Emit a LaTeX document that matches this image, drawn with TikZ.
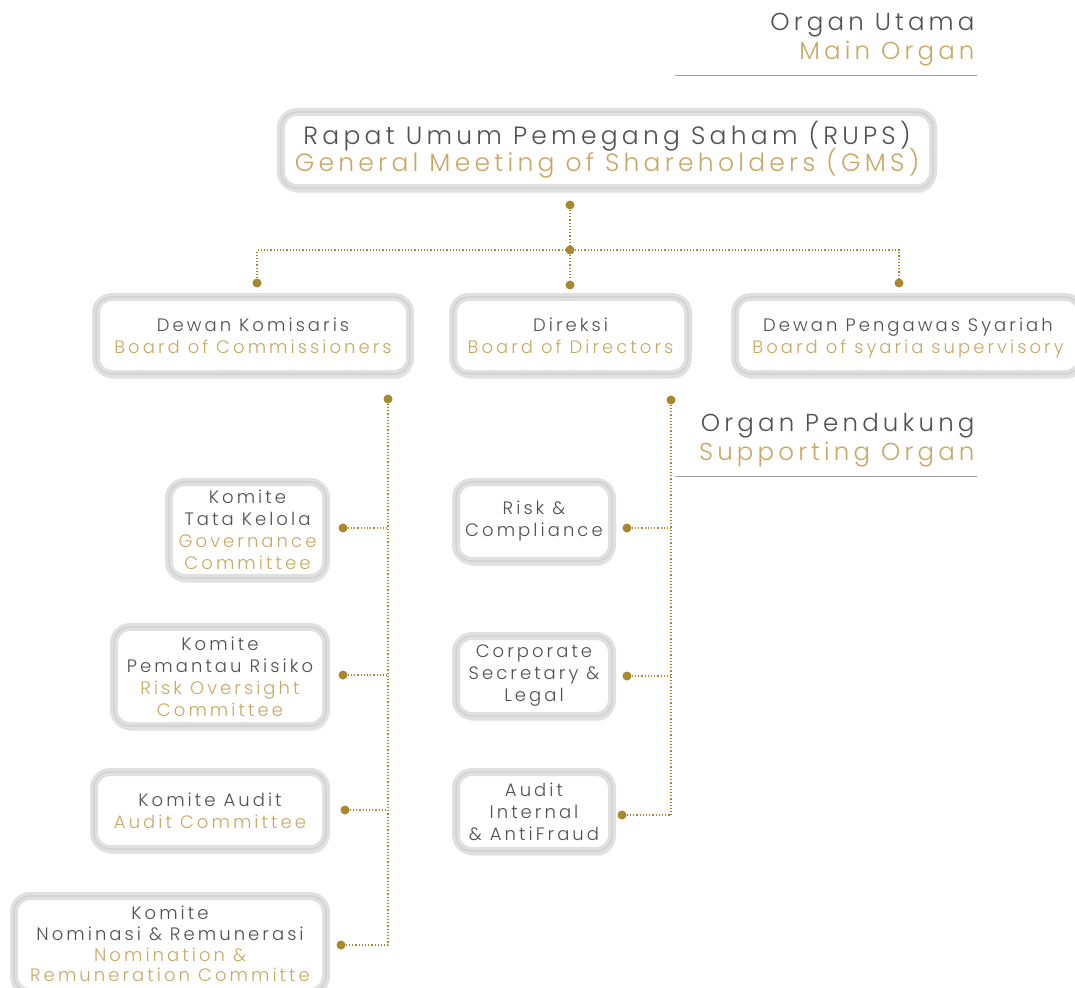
\documentclass[tikz,border=0pt]{standalone}
\usepackage{fontspec}
\IfFontExistsTF{Poppins Light}
  {\setmainfont{Poppins Light}[LetterSpace=17]}
  {\setmainfont{Poppins}[LetterSpace=17]}
\usetikzlibrary{shadows}
\definecolor{dk}{HTML}{505050}
\definecolor{gd}{HTML}{C9A865}
\definecolor{dotc}{HTML}{A8872E}
\definecolor{frame}{HTML}{E0E0E0}
\definecolor{frin}{HTML}{CFCFCF}
\definecolor{rule}{HTML}{A0A0A0}
\newcommand{\gl}[1]{\textcolor{gd}{#1}}
\newcommand{\tightls}{\setlength{\lineskiplimit}{-50pt}\setlength{\lineskip}{0pt}}
\begin{document}
\begin{tikzpicture}[x=1pt,y=-1pt,
 orgbox/.style={draw=frame, line width=8pt, fill=white, rounded corners=16pt, text=dk, align=center, inner sep=0pt,
   drop shadow={opacity=0.15,shadow xshift=2pt,shadow yshift=-5pt},
   postaction={draw=frin, line width=1.2pt, rounded corners=12pt}},
 big/.style={font=\fontsize{25}{27}\selectfont\tightls},
 mid/.style={font=\fontsize{18}{22}\selectfont\tightls},
 sml/.style={font=\fontsize{18}{20.7}\selectfont\tightls},
 conn/.style={dotc, dotted, line width=1.2pt},
 dot/.style={circle, fill=dotc, inner sep=0pt, minimum size=9pt},
 head/.style={anchor=east, text=dk, align=right, font=\fontsize{24.5}{29}\selectfont\tightls}
]
\useasboundingbox (0,0) rectangle (1075,987);

% headers
\node[head] (h1) at (978,40) {Organ Utama\\\gl{Main Organ}};
\coordinate (r1a) at (675,76); \coordinate (r1b) at (977,76);
\draw[rule, line width=1pt] (r1a) -- (r1b);
\node[head] (h2) at (978,440) {Organ Pendukung\\\gl{Supporting Organ}};
\coordinate (r2a) at (675,476); \coordinate (r2b) at (977,476);
\draw[rule, line width=1pt] (r2a) -- (r2b);

% main organ boxes
\node[orgbox, big, minimum width=652pt, minimum height=76pt] (rups) at (607,150)
  {Rapat Umum Pemegang Saham (RUPS)\\\gl{General Meeting of Shareholders (GMS)}};
\node[orgbox, mid, minimum width=314pt, minimum height=77pt] (dekom) at (253,335.5)
  {Dewan Komisaris\\\gl{Board of Commissioners}};
\node[orgbox, mid, minimum width=235pt, minimum height=77pt] (dir) at (570.5,335.5)
  {Direksi\\\gl{Board of Directors}};
\node[orgbox, mid, minimum width=346pt, minimum height=77pt, text depth=0pt] (dps) at (908,335.5)
  {Dewan Pengawas Syariah\\\gl{Board of syaria supervisory}};

% committees (left)
\node[orgbox, mid, minimum width=157pt, minimum height=96pt] (ktk) at (247.5,530)
  {Komite\\Tata Kelola\\\gl{Governance}\\\gl{Committee}};
\node[orgbox, mid, minimum width=212pt, minimum height=99pt] (kpr) at (220,676.5)
  {Komite\\Pemantau Risiko\\\gl{Risk Oversight}\\\gl{Committee}};
\node[orgbox, mid, minimum width=232pt, minimum height=77pt] (ka) at (210,810.5)
  {Komite Audit\\\gl{Audit Committee}};
\node[orgbox, sml, minimum width=312pt, minimum height=96pt] (knr) at (170,944)
  {Komite\\Nominasi \& Remunerasi\\\gl{Nomination \&}\\\gl{Remuneration Committe}};

% supporting units (right)
\node[orgbox, mid, minimum width=156pt, minimum height=79pt] (rc) at (534,521.5)
  {Risk \&\\Compliance};
\node[orgbox, mid, minimum width=156pt, minimum height=80pt] (cs) at (534,676)
  {Corporate\\Secretary \&\\Legal};
\node[orgbox, mid, minimum width=156pt, minimum height=79pt] (ai) at (534,811.5)
  {Audit\\Internal\\\& AntiFraud};

% top connectors
\node[dot] (d0) at (570,205) {};
\node[dot] (dc) at (570,250) {};
\node[dot] (dd) at (570,285) {};
\node[dot] (dl) at (257,283) {};
\node[dot] (dr) at (899,283) {};
\draw[conn] (d0) -- (dc);
\draw[conn] (dc) -- (dd);
\draw[conn] (dl) |- (dc);
\draw[conn] (dc) -| (dr);

% left tree
\node[dot] (lt) at (388,399) {};
\coordinate (l1) at (388,528);
\coordinate (l2) at (388,675);
\coordinate (l3) at (388,810);
\coordinate (l4) at (388,945);
\node[dot] (lk1) at (343,528) {};
\node[dot] (lk2) at (343,675) {};
\node[dot] (lk3) at (345,810) {};
\node[dot] (lk4) at (341,945) {};
\draw[conn] (lt) -- (l4);
\draw[conn] (lk1) -- (l1);
\draw[conn] (lk2) -- (l2);
\draw[conn] (lk3) -- (l3);
\draw[conn] (lk4) -- (l4);

% right tree
\node[dot] (rt) at (671,400) {};
\coordinate (m1) at (671,528);
\coordinate (m2) at (671,676);
\coordinate (m3) at (671,815);
\node[dot] (rk1) at (627,528) {};
\node[dot] (rk2) at (627,676) {};
\node[dot] (rk3) at (622,815) {};
\draw[conn] (rt) -- (m3);
\draw[conn] (rk1) -- (m1);
\draw[conn] (rk2) -- (m2);
\draw[conn] (rk3) -- (m3);
\end{tikzpicture}
\end{document}
